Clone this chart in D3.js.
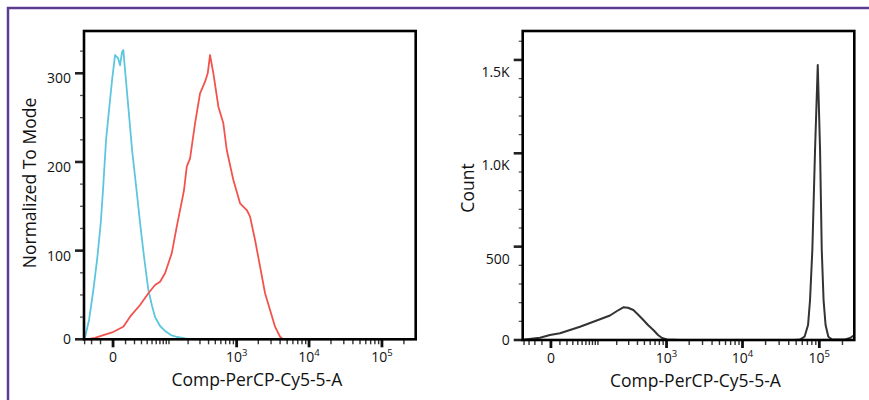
<!DOCTYPE html>
<html><head><meta charset="utf-8">
<script src="https://cdn.jsdelivr.net/npm/d3@7"></script>
<style>
html,body{margin:0;padding:0;background:#fff;}
svg{display:block;font-family:"Open Sans","DejaVu Sans",sans-serif;}
</style></head>
<body><svg id="c" width="869" height="400"></svg>
<script>
// ---------- data ----------
// Left panel: Normalized To Mode vs Comp-PerCP-Cy5-5-A
const cyanIntensity = [-30.9,-29.3,-23.4,-17.8,-13.2,-9.8,-7.7,-5.1,-2.56,-0.64,1.35,3.53,5.1,6.78,7.93,9.5,12.8,17.0,22.7,27.8,34.3,42.3,50.1,57.1,70.4,85.9,108,135,180,229];
const cyanCount     = [0,2.6,21.8,55.6,92.8,131.2,168.4,224.8,262,292.4,320.6,317,309,324,326.3,303.7,262,213.5,168.4,131.2,92.8,55.6,37.6,25.1,15,9.4,4.8,2.6,0.9,0];
const redIntensity  = [-26.7,-15.8,-7.4,0,7.9,14.7,27.8,42.3,57.1,70.4,85.9,111,133.5,160,173.4,190.8,214,254,301,356,389,420,469,553,650,726,899,1116,1384,1538,1804,2117,2480,2908,3409,3995,4393];
const redCount      = [0,1.5,4.8,8.2,14.2,25.5,38.7,51.9,61.2,65,74.4,97,127,155.2,168.4,194.7,204.1,243.6,277.4,290.5,300,320.6,300,262.3,243.6,213.5,179.7,153.4,145.8,138.3,112,81.9,51.9,33,14.2,2.9,0];
// Right panel: Count vs Comp-PerCP-Cy5-5-A
const grayIntensity = [-43,-12.5,-1,10.1,25,45,72.1,108.5,157.7,202,250.7,293.5,349.6,407,483,560,663,768,869,1015,1513,12540,48300,56150,64250,71350,75720,81130,87970,95420,102230,107570,113540,120570,131030,146420,216050,251000,285500];
const grayCount     = [2,12.3,26.8,35.9,53.6,71.2,91,110.9,131.2,155.3,175.1,172.5,160.7,136.6,107.1,80.3,53.6,26.8,10.7,2.7,0,0,0,2.7,17.7,80.3,214,482,1018,1473,1018,482,214,80.3,17.7,2.7,2.7,10.7,26.8];

const leftYTicks = [0,100,200,300];
const leftYTickLabels = ["0","100","200","300"];
const rightYTicks = [0,500,1000,1500];
const rightYTickLabels = ["0","500","1.0K","1.5K"];
const xMajorTicks = [0,1000,10000,100000];
const xMajorBase = ["0","10","10","10"];
const xMajorExp = ["","3","4","5"];
const xTitle = "Comp-PerCP-Cy5-5-A";
const leftYTitle = "Normalized To Mode";
const rightYTitle = "Count";

// ---------- drawing ----------
const svg = d3.select("#c");
const purple = "#5b3c8e";
svg.append("line").attr("x1",8).attr("x2",8).attr("y1",7).attr("y2",400).attr("stroke",purple).attr("stroke-width",2.5);
svg.append("line").attr("x1",7).attr("x2",869).attr("y1",8).attr("y2",8).attr("stroke",purple).attr("stroke-width",2.5);

function minorXTicks(lo, hi){
  const out=[];
  for(let e=1;e<=5;e++){
    for(let m=1;m<=9;m++){
      const v=m*Math.pow(10,e);
      if(xMajorTicks.indexOf(v)<0 && v<=hi) out.push(v);
      if(-v>=lo) out.push(-v);
    }
  }
  return out;
}

function panel(o){
  const g = svg.append("g").attr("transform",`translate(${o.x},${o.y})`);
  const x = d3.scaleSymlog().constant(o.c).domain(o.xDomain).range([0,o.w]);
  const y = d3.scaleLinear().domain(o.yDomain).range([o.h,0]);
  const id = "clip"+o.id;
  g.append("clipPath").attr("id",id).append("rect").attr("width",o.w).attr("height",o.h);
  const line = d3.line().x(d=>x(d[0])).y(d=>y(d[1]));
  o.series.forEach(s=>{
    g.append("path").attr("clip-path",`url(#${id})`)
      .attr("d", line(d3.zip(s.x, s.y)))
      .attr("fill","none").attr("stroke",s.color).attr("stroke-width",s.sw).attr("stroke-linejoin","round");
  });
  // y minor ticks
  const ym = d3.range(0, o.yDomain[1], o.yMinor).filter(v=>o.yTicks.indexOf(v)<0);
  g.selectAll(".ymin").data(ym).join("line")
    .attr("x1",-4).attr("x2",0).attr("y1",d=>y(d)).attr("y2",d=>y(d))
    .attr("stroke","#555").attr("stroke-width",1.3);
  g.selectAll(".ymaj").data(o.yTicks).join("line")
    .attr("x1",-9).attr("x2",0).attr("y1",d=>y(d)).attr("y2",d=>y(d))
    .attr("stroke","#222").attr("stroke-width",2.6);
  g.selectAll(".ylab").data(o.yTicks).join("text")
    .attr("x",-13).attr("y",d=>y(d)+(d===0?0:o.labOff))
    .attr("dy","0.35em").attr("text-anchor","end")
    .attr("font-size",14).attr("fill","#111")
    .text((d,i)=>o.yLabels[i]);
  // x ticks
  const xm = minorXTicks(o.xDomain[0], o.xDomain[1]);
  g.selectAll(".xmin").data(xm).join("line")
    .attr("x1",d=>x(d)).attr("x2",d=>x(d)).attr("y1",o.h).attr("y2",o.h+5)
    .attr("stroke","#333").attr("stroke-width",1.4);
  g.selectAll(".xmaj").data(xMajorTicks).join("line")
    .attr("x1",d=>x(d)).attr("x2",d=>x(d)).attr("y1",o.h).attr("y2",o.h+8)
    .attr("stroke","#111").attr("stroke-width",2.8);
  const xl = g.selectAll(".xlab").data(xMajorTicks).join("text")
    .attr("x",d=>x(d)).attr("y",o.h+23).attr("text-anchor","middle")
    .attr("font-size",14).attr("fill","#111");
  xl.append("tspan").text((d,i)=>xMajorBase[i]);
  xl.append("tspan").attr("dy",-6).attr("font-size",9.5).text((d,i)=>xMajorExp[i]);
  // frame
  g.append("rect").attr("width",o.w).attr("height",o.h)
    .attr("fill","none").attr("stroke","#000").attr("stroke-width",2.6);
  // titles
  g.append("text").attr("x",o.w/2+o.xtOff).attr("y",o.h+47).attr("text-anchor","middle")
    .attr("font-size",17.5).attr("fill","#111").text(xTitle);
  g.append("text").attr("transform",`translate(${o.ytX},${o.ytY}) rotate(-90)`)
    .attr("text-anchor","middle").attr("dy","0.35em")
    .attr("font-size",17.5).attr("fill","#111").text(o.yTitle);
}

panel({id:"L", x:84, y:31, w:331.7, h:308.3, c:20.66, xDomain:[-31,290000], yDomain:[0,347.7],
  yTicks:leftYTicks, yLabels:leftYTickLabels, yMinor:25, labOff:5, xtOff:7, yTitle:leftYTitle, ytX:-54, ytY:152,
  series:[{x:cyanIntensity,y:cyanCount,color:"#5cc6df",sw:1.8},{x:redIntensity,y:redCount,color:"#f2544d",sw:1.8}]});
panel({id:"R", x:522.7, y:31, w:331.6, h:309, c:32.4, xDomain:[-43,285000], yDomain:[0,1655],
  yTicks:rightYTicks, yLabels:rightYTickLabels, yMinor:100, labOff:12, xtOff:7, yTitle:rightYTitle, ytX:-55, ytY:157,
  series:[{x:grayIntensity,y:grayCount,color:"#333",sw:2}]});
</script></body></html>
